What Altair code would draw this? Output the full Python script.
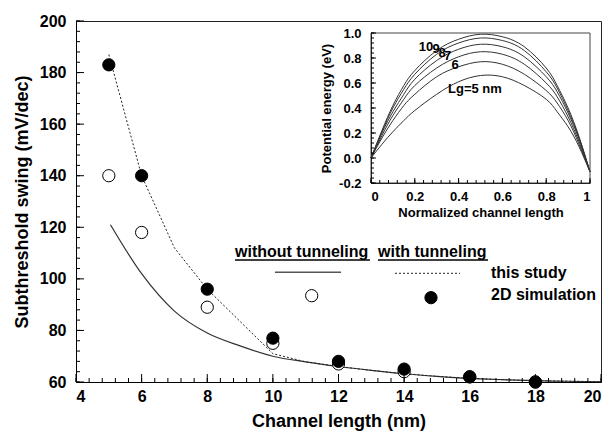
import altair as alt
import pandas as pd

# ---------------- main plot data ----------------
sim_lengths = [5, 6, 8, 10, 12, 14, 16, 18]
sim_with_tunneling = [183, 140, 96, 77, 68, 65, 62, 60]
sim_without_tunneling = [140, 118, 89, 75, 67, 64, 62, 60]

model_x_without = [5.05, 6, 7, 8, 9, 10, 11, 12, 13, 14, 15, 16, 17, 18, 19, 20]
model_without_tunneling = [121, 102, 87.5, 79, 74, 70, 67.8, 66, 64.5, 63.2, 62.2, 61.4, 60.9, 60.5, 60.3, 60.1]

model_x_with = [5, 6, 7, 8, 9, 10, 11, 12, 13, 14, 15, 16, 17, 18, 19, 20]
model_with_tunneling = [187, 140, 112, 96, 83.5, 71, 67.8, 66, 64.5, 63.2, 62.2, 61.4, 60.9, 60.5, 60.3, 60.1]

# ---------------- inset data ----------------
inset_x = [0, 0.05, 0.1, 0.15, 0.2, 0.3, 0.4, 0.5, 0.6, 0.7, 0.8, 0.85, 0.9, 0.95, 1.0]
pe_lg10 = [0.0, 0.22, 0.42, 0.58, 0.70, 0.86, 0.95, 0.99, 0.97, 0.89, 0.72, 0.58, 0.40, 0.17, -0.11]
pe_lg9 = [0.0, 0.21, 0.40, 0.55, 0.67, 0.83, 0.92, 0.96, 0.94, 0.86, 0.69, 0.56, 0.38, 0.16, -0.11]
pe_lg8 = [0.0, 0.20, 0.37, 0.51, 0.63, 0.78, 0.87, 0.91, 0.89, 0.81, 0.65, 0.53, 0.36, 0.15, -0.11]
pe_lg7 = [0.0, 0.18, 0.34, 0.47, 0.58, 0.72, 0.81, 0.85, 0.83, 0.75, 0.60, 0.49, 0.33, 0.13, -0.11]
pe_lg6 = [0.0, 0.16, 0.30, 0.42, 0.51, 0.65, 0.73, 0.77, 0.75, 0.67, 0.54, 0.44, 0.30, 0.11, -0.11]
pe_lg5 = [0.0, 0.11, 0.21, 0.30, 0.38, 0.51, 0.61, 0.66, 0.65, 0.58, 0.47, 0.37, 0.25, 0.09, -0.11]
inset_lgs = [10, 9, 8, 7, 6, 5]

# tick values
main_x_major = [4, 6, 8, 10, 12, 14, 16, 18, 20]
main_y_major = [60, 80, 100, 120, 140, 160, 180, 200]
inset_x_major = [0, 0.2, 0.4, 0.6, 0.8, 1.0]
inset_y_major = [-0.2, 0, 0.2, 0.4, 0.6, 0.8, 1.0]

FONT = "Liberation Sans"
W, H = 525, 361

main_x_minor = [round(4 + 0.4 * i, 2) for i in range(41)]
main_y_minor = [60 + 4 * i for i in range(36)]
inset_x_minor = [round(0.04 * i, 2) for i in range(26)]
inset_y_minor = [round(-0.2 + 0.04 * i, 2) for i in range(31)]

sx = alt.Scale(domain=[4, 20], nice=False, zero=False)
sy = alt.Scale(domain=[60, 200], nice=False, zero=False)
IX0, IX1, IY0, IY1 = 295, 514, 162, 12
isx = alt.Scale(domain=[0, 1], range=[IX0, IX1], nice=False, zero=False)
isy = alt.Scale(domain=[-0.2, 1.0], range=[IY0, IY1], nice=False, zero=False)

sim_df = pd.DataFrame({"L": sim_lengths, "with": sim_with_tunneling, "without": sim_without_tunneling})
m_without = pd.DataFrame({"L": model_x_without, "S": model_without_tunneling})
m_with = pd.DataFrame({"L": model_x_with, "S": model_with_tunneling})

rows = []
for lg, ys in zip(inset_lgs, [pe_lg10, pe_lg9, pe_lg8, pe_lg7, pe_lg6, pe_lg5]):
    for xv, yv in zip(inset_x, ys):
        rows.append({"x": xv, "pe": yv, "Lg": lg})
inset_df = pd.DataFrame(rows)

# ---- main layers ----
line_without = alt.Chart(m_without).mark_line(color="#333", strokeWidth=1.2, interpolate="monotone").encode(
    x=alt.X("L:Q", scale=sx, axis=alt.Axis(
        values=main_x_major, ticks=False, labelPadding=6, title="Channel length (nm)",
        titlePadding=8, orient="bottom")),
    y=alt.Y("S:Q", scale=sy, axis=alt.Axis(
        values=main_y_major, ticks=False, labelPadding=10, title="Subthreshold swing (mV/dec)",
        titlePadding=8, orient="left")),
)
line_with = alt.Chart(m_with).mark_line(color="#222", strokeWidth=1, strokeDash=[2, 2]).encode(
    x=alt.X("L:Q", scale=sx, axis=None),
    y=alt.Y("S:Q", scale=sy, axis=None),
)
open_pts = alt.Chart(sim_df).mark_point(shape="circle", filled=True, fill="white", stroke="black",
                                        strokeWidth=1, size=150, opacity=1).encode(
    x=alt.X("L:Q", scale=sx, axis=None),
    y=alt.Y("without:Q", scale=sy, axis=None),
)
filled_pts = alt.Chart(sim_df).mark_point(shape="circle", filled=True, fill="black", stroke="black",
                                          strokeWidth=1, size=150, opacity=1).encode(
    x=alt.X("L:Q", scale=sx, axis=None),
    y=alt.Y("with:Q", scale=sy, axis=None),
)

def xticks(vals, scale, y0, y1):
    return alt.Chart(pd.DataFrame({"v": vals})).mark_rule(color="black", strokeWidth=1).encode(
        x=alt.X("v:Q", scale=scale, axis=None), y=alt.value(y0), y2=alt.value(y1))

def yticks(vals, scale, x0, x1):
    return alt.Chart(pd.DataFrame({"v": vals})).mark_rule(color="black", strokeWidth=1).encode(
        y=alt.Y("v:Q", scale=scale, axis=None), x=alt.value(x0), x2=alt.value(x1))

main_ticks = [
    xticks(main_x_minor, sx, H, H - 4),
    xticks(main_x_major, sx, H, H - 8),
    yticks(main_y_minor, sy, 0, 4),
    yticks(main_y_major, sy, 0, 8),
]

# ---- legend ----
def txt(s, x, y, size=16, align="left"):
    return alt.Chart(pd.DataFrame({"t": [s]})).mark_text(
        font=FONT, fontWeight="bold", fontSize=size, align=align, baseline="alphabetic", color="black"
    ).encode(text="t:N", x=alt.value(x), y=alt.value(y))

def hrule(x0, x1, y, color="black", width=1.5, dash=None):
    kw = dict(color=color, strokeWidth=width)
    if dash:
        kw["strokeDash"] = dash
    return alt.Chart(pd.DataFrame({"a": [0]})).mark_rule(**kw).encode(
        x=alt.value(x0), x2=alt.value(x1), y=alt.value(y))

def sym(x, y, fill):
    return alt.Chart(pd.DataFrame({"a": [0]})).mark_point(
        shape="circle", filled=True, fill=fill, stroke="black", strokeWidth=1, size=150, opacity=1
    ).encode(x=alt.value(x), y=alt.value(y))

legend = [
    txt("without tunneling", 159, 236.3),
    hrule(159, 294, 239, width=1.3),
    txt("with tunneling", 302, 236.3),
    hrule(302, 412, 239, width=1.3),
    hrule(199, 265, 251.3, color="#555", width=1.5),
    hrule(319, 384, 252.3, color="#222", width=1, dash=[2, 2]),
    txt("this study", 415, 257.2),
    txt("2D simulation", 415, 278.8),
    sym(235.7, 274.7, "white"),
    sym(355, 276.7, "black"),
]

# ---- inset ----
inset_lines = alt.Chart(inset_df).mark_line(color="#333", strokeWidth=1, interpolate="natural").encode(
    x=alt.X("x:Q", scale=isx, axis=alt.Axis(
        orient="bottom", offset=-(H - IY0), values=inset_x_major, format="~g", ticks=False,
        labelPadding=7, labelFontSize=13, title="Normalized channel length", titleFontSize=13,
        titlePadding=3)),
    y=alt.Y("pe:Q", scale=isy, axis=alt.Axis(
        orient="left", offset=-IX0, values=inset_y_major, ticks=False,
        labelExpr="replace(format(datum.value, '.1f'), '\u2212', '-')",
        labelPadding=10, labelFontSize=13, title="Potential energy (eV)", titleFontSize=13,
        titlePadding=5)),
    detail="Lg:N",
)
inset_frame = alt.Chart(pd.DataFrame({"a": [0]})).mark_rect(filled=False, stroke="#444", strokeWidth=1).encode(
    x=alt.X(datum=0, scale=isx, axis=None), x2=alt.X2(datum=1),
    y=alt.Y(datum=-0.2, scale=isy, axis=None), y2=alt.Y2(datum=1.0),
)
inset_ticks = [
    xticks(inset_x_minor, isx, IY0, IY0 - 3),
    xticks(inset_x_major, isx, IY0, IY0 - 5),
    yticks(inset_y_minor, isy, IX0, IX0 + 3),
    yticks(inset_y_major, isy, IX0, IX0 + 5),
]
inset_labels = [
    txt("10", 350, 29.7, size=13, align="center"),
    txt("9", 360, 32.3, size=13, align="center"),
    txt("8", 366, 35.7, size=13, align="center"),
    txt("7", 371.5, 39, size=13, align="center"),
    txt("6", 379, 48, size=13, align="center"),
    txt("Lg=5 nm", 372, 71.5, size=13),
]

chart = alt.layer(
    line_without, line_with, open_pts, filled_pts, *main_ticks, *legend,
    inset_lines, inset_frame, *inset_ticks, *inset_labels,
).resolve_scale(x="independent", y="independent").properties(
    width=W, height=H,
    autosize=alt.AutoSizeParams(type="none"),
    padding={"left": 76, "top": 21, "right": 10, "bottom": 59},
).configure_view(stroke="#222", strokeWidth=1).configure_axis(
    grid=False, domainColor="black", domainWidth=1,
    labelFont=FONT, labelFontWeight="bold", labelFontSize=16, labelColor="black",
    titleFont=FONT, titleFontWeight="bold", titleFontSize=18, titleColor="black",
)

chart.save("out.html", embed_options={"renderer": "svg", "actions": False})
